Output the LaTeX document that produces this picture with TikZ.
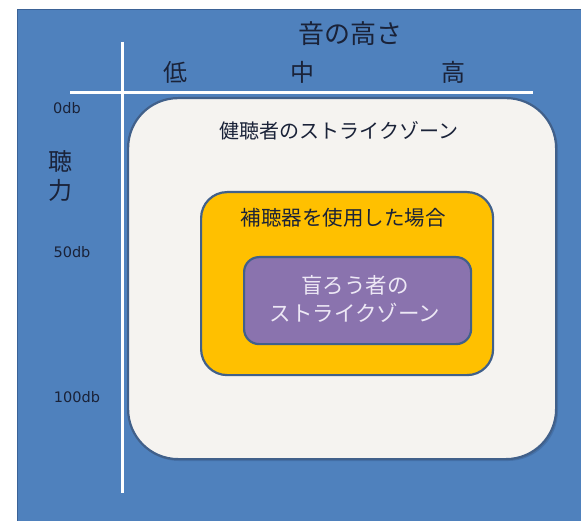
\documentclass[tikz,border=0pt]{standalone}
\usepackage{fontspec}
\setmainfont{DejaVu Sans}
\newfontfamily\jp{Noto Sans CJK JP}
\definecolor{bgblue}{HTML}{4F81BD}
\definecolor{bgedge}{HTML}{3B6296}
\definecolor{zonewhite}{HTML}{F5F3F0}
\definecolor{zoneedge}{HTML}{41608A}
\definecolor{hagold}{HTML}{FFC000}
\definecolor{dbpurple}{HTML}{8A73AE}
\definecolor{inkdark}{HTML}{1A2238}
\definecolor{lavtext}{HTML}{EDE8F5}
\begin{document}
\begin{tikzpicture}[x=1pt,y=-1pt,
  axisline/.style={draw=white,line width=3pt},
  zone/.style={draw=zoneedge,line width=2.2pt},
  lbl/.style={inner sep=0pt,text=inkdark,font=\jp},
  dbl/.style={inner sep=0pt,text=inkdark,font=\fontsize{14.5}{16}\selectfont}]
\useasboundingbox (0,0) rectangle (581,521);
\fill[white] (0,0) rectangle (581,521);
\draw[fill=bgblue,draw=bgedge,line width=1.5pt] (17.5,9.5) rectangle (583,523);
% white zone with faint shadow
\fill[bgedge,opacity=0.5,rounded corners=50pt] (129,100) rectangle (558,461);
\node[zone,fill=zonewhite,rounded corners=50pt,minimum width=428pt,minimum height=361pt,inner sep=0pt,anchor=north west] (healthy) at (127,97) {};
\node[zone,fill=hagold,rounded corners=26pt,minimum width=292pt,minimum height=183pt,inner sep=0pt,anchor=north west] (aid) at (200,191) {};
\node[zone,fill=dbpurple,rounded corners=15pt,minimum width=227pt,minimum height=87pt,inner sep=0pt,anchor=north west] (db) at (243,256) {};
% axes
\coordinate (vtop) at (122,42);
\coordinate (vbot) at (122,493);
\coordinate (hleft) at (70,93);
\coordinate (hright) at (533,93);
\draw[axisline] (vtop) -- (vbot);
\draw[axisline] (hleft) -- (hright);
% labels
\node[lbl,font=\jp\fontsize{26}{28}\selectfont] (pitch) at (350,34) {音の高さ};
\node[lbl,font=\jp\fontsize{24}{26}\selectfont] (low) at (175,72) {低};
\node[lbl,font=\jp\fontsize{24}{26}\selectfont] (mid) at (302,72) {中};
\node[lbl,font=\jp\fontsize{24}{26}\selectfont] (high) at (453,72) {高};
\node[dbl] (d0) at (67,108) {0db};
\node[dbl] (d50) at (72,252) {50db};
\node[dbl] (d100) at (77,397) {100db};
\node[lbl,font=\jp\fontsize{24}{26}\selectfont] (ch1) at (60,161) {聴};
\node[lbl,font=\jp\fontsize{24}{26}\selectfont] (ch2) at (60,190) {力};
\node[lbl,font=\jp\fontsize{20}{22}\selectfont] (tH) at (339,131) {健聴者のストライクゾーン};
\node[lbl,font=\jp\fontsize{20.5}{22}\selectfont] (tA) at (343,218) {補聴器を使用した場合};
\node[lbl,text=lavtext,font=\jp\fontsize{21.5}{23}\selectfont] (tD1) at (355,285) {盲ろう者の};
\node[lbl,text=lavtext,font=\jp\fontsize{21.5}{23}\selectfont] (tD2) at (355,313) {ストライクゾーン};
\end{tikzpicture}
\end{document}
